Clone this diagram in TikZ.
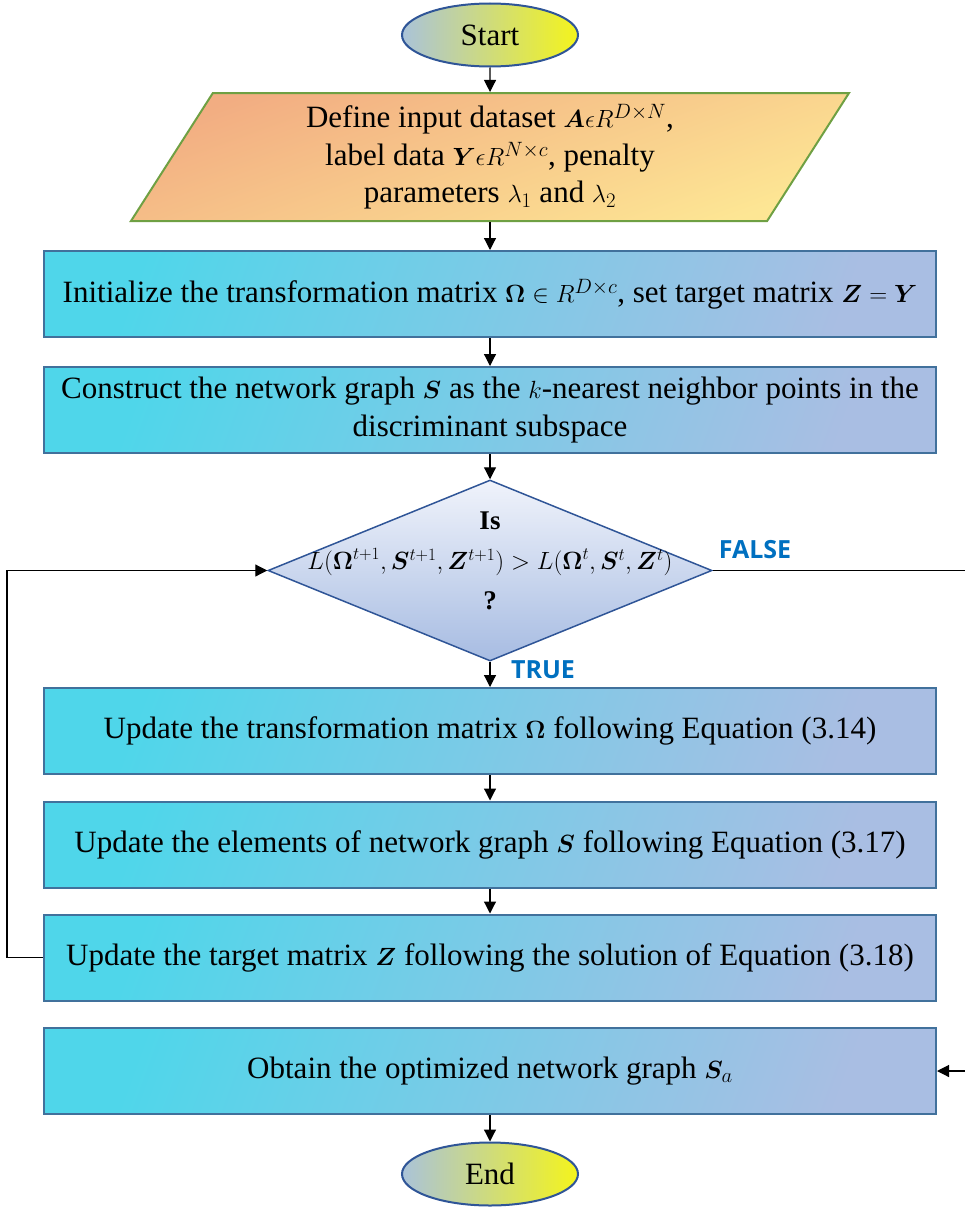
\documentclass[tikz,border=0pt]{standalone}
\usepackage{fontspec}
\setmainfont{Liberation Serif}
\newfontfamily\tagfont{Open Sans}
\usepackage{amsmath,bm}
\usetikzlibrary{arrows.meta, shapes.geometric}

\definecolor{boxtop}{HTML}{4FD6EA}
\definecolor{boxbot}{HTML}{A9BEE3}
\definecolor{boxline}{HTML}{41719C}
\definecolor{ovalleft}{HTML}{AAC3D9}
\definecolor{ovalright}{HTML}{F4F41C}
\definecolor{ovalline}{HTML}{2F5597}
\definecolor{inputtop}{HTML}{F2AD82}
\definecolor{inputbot}{HTML}{FDE694}
\definecolor{inputline}{HTML}{6FA043}
\definecolor{condtop}{HTML}{F0F3FB}
\definecolor{condbot}{HTML}{A7BCE2}
\definecolor{tagblue}{HTML}{0070C0}

\begin{document}
\begin{tikzpicture}[x=1pt, y=-1pt,
    stepbox/.style={draw=boxline, line width=2pt, top color=boxtop,
                    bottom color=boxbot, shading angle=70,
                    minimum width=892pt, minimum height=86pt, inner sep=0pt,
                    align=center, font=\fontsize{31}{38}\selectfont},
    term/.style={ellipse, draw=ovalline, line width=2pt,
                 left color=ovalleft, right color=ovalright,
                 minimum width=176pt, minimum height=63pt, inner sep=0pt,
                 font=\fontsize{31}{36}\selectfont},
    flow/.style={-{Triangle[length=12pt, width=12pt]}, line width=1.2pt},
    tag/.style={font=\tagfont\bfseries\fontsize{25}{30}\selectfont,
                text=tagblue}
  ]
  \useasboundingbox (0,0) rectangle (965,1207);

  \node[term] (start) at (490,35) {Start};
  \node[trapezium, trapezium left angle=52, trapezium right angle=128,
        trapezium stretches body, draw=inputline, line width=2pt,
        top color=inputtop, bottom color=inputbot, shading angle=20,
        minimum width=718pt, minimum height=128pt, inner sep=0pt,
        align=center, font=\fontsize{31}{37.5}\selectfont]
    (input) at (490,157)
    {Define input dataset $\bm{A}\epsilon R^{D\times N}$,\\
     label data $\bm{Y}\epsilon R^{N\times c}$, penalty\\
     parameters $\lambda_1$ and $\lambda_2$};

  \node[stepbox] (init) at (490,294)
    {Initialize the transformation matrix $\bm{\Omega}\in R^{D\times c}$,
     set target matrix $\bm{Z}=\bm{Y}$};
  \node[stepbox] (graph) at (490,410)
    {Construct the network graph $\bm{S}$ as the $k$-nearest neighbor
     points in the\\ discriminant subspace};

  \node[diamond, draw=ovalline, line width=1.5pt, top color=condtop,
        bottom color=condbot, minimum width=444pt, minimum height=181pt,
        inner sep=0pt] (cond) at (490,570.5) {};
  \node[align=center, font=\fontsize{27}{40}\selectfont] (condtext)
    at (490,561)
    {\textbf{Is}\\
     $L(\bm{\Omega}^{t+1},\bm{S}^{t+1},\bm{Z}^{t+1})>L(\bm{\Omega}^{t},\bm{S}^{t},\bm{Z}^{t})$\\
     \textbf{?}};
  \node[tag] (false) at (755,550) {FALSE};
  \node[tag] (true) at (543,670) {TRUE};

  \node[stepbox] (updomega) at (490,731)
    {Update the transformation matrix $\bm{\Omega}$ following Equation (3.14)};
  \node[stepbox] (updgraph) at (490,844.5)
    {Update the elements of network graph $\bm{S}$ following Equation (3.17)};
  \node[stepbox] (updtarget) at (490,957.5)
    {Update the target matrix $\bm{Z}$ following the solution of Equation (3.18)};
  \node[stepbox] (result) at (490,1071)
    {Obtain the optimized network graph $\bm{S}_a$};
  \node[term] (end) at (490,1174) {End};

  \coordinate (farright) at (968,570.5);

  \draw[flow] (start.south) -- (input.north);
  \draw[flow] (input) -- (init);
  \draw[flow] (init) -- (graph);
  \draw[flow] (graph.south) -- (cond.north);
  \draw[flow] (cond.south) -- (updomega.north);
  \draw[flow] (updomega) -- (updgraph);
  \draw[flow] (updgraph) -- (updtarget);
  \draw[flow] (updtarget.west) -- ++(-36,0) |- (cond.west);
  \draw[flow] (cond.east) -- (farright) |- (result.east);
  \draw[flow] (result) -- (end);
\end{tikzpicture}
\end{document}
